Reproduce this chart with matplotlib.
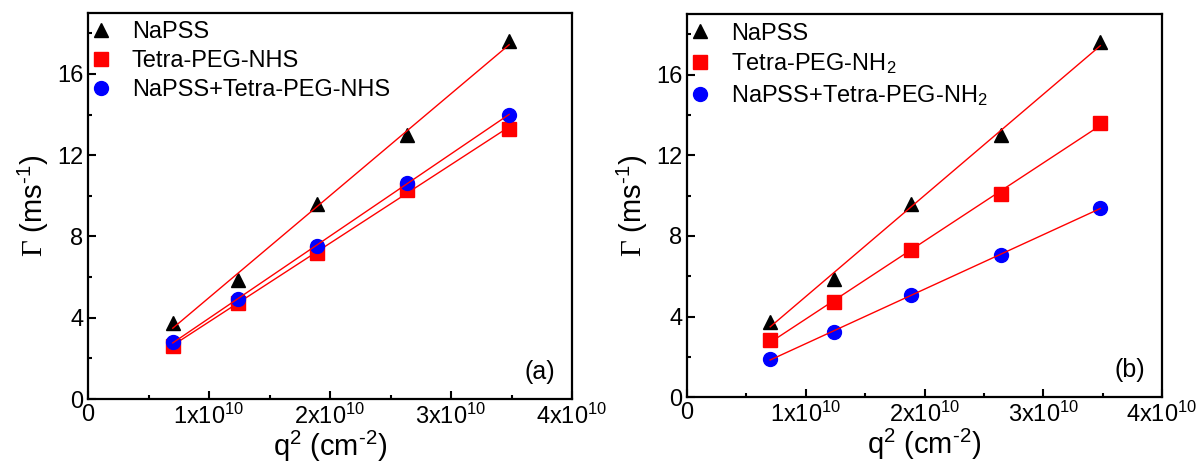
import matplotlib.pyplot as plt
import numpy as np
from matplotlib.ticker import MultipleLocator, FuncFormatter

plt.rcParams['font.family'] = ['Liberation Sans', 'DejaVu Sans']
plt.rcParams['mathtext.fontset'] = 'custom'
plt.rcParams['mathtext.rm'] = 'Liberation Sans'
plt.rcParams['mathtext.it'] = 'Liberation Sans'
plt.rcParams['mathtext.sf'] = 'Liberation Serif'
plt.rcParams['axes.unicode_minus'] = False

# q^2 values (cm^-2)
q2 = [0.70e10, 1.24e10, 1.89e10, 2.64e10, 3.48e10]

# panel (a)
napss = [3.75, 5.85, 9.6, 13.0, 17.6]
peg_nhs = [2.6, 4.75, 7.2, 10.3, 13.3]
mix_nhs = [2.8, 4.9, 7.55, 10.65, 14.0]

# panel (b)
peg_nh2 = [2.85, 4.7, 7.3, 10.1, 13.6]
mix_nh2 = [1.9, 3.25, 5.05, 7.05, 9.4]

labels_a = ['NaPSS', 'Tetra-PEG-NHS', 'NaPSS+Tetra-PEG-NHS']
labels_b = ['NaPSS', 'Tetra-PEG-NH$_2$', 'NaPSS+Tetra-PEG-NH$_2$']
markers = ['^', 's', 'o']
colors = ['black', 'red', 'blue']


def xfmt(v, pos):
    if abs(v) < 1:
        return '0'
    return '%dx10$^{10}$' % round(v / 1e10)


def draw(ax, series, labels, tag):
    x = np.array(q2)
    for y, lab, m, c in zip(series, labels, markers, colors):
        ax.plot(x, y, linestyle='none', marker=m, color=c, markersize=10, label=lab)
        k, b = np.polyfit(x, y, 1)
        ax.plot(x[[0, -1]], k * x[[0, -1]] + b, color='red', lw=1)
    ax.set_xlim(0, 4e10)
    ax.set_ylim(0, 19)
    ax.xaxis.set_major_locator(MultipleLocator(1e10))
    ax.xaxis.set_minor_locator(MultipleLocator(0.5e10))
    ax.yaxis.set_major_locator(MultipleLocator(4))
    ax.yaxis.set_minor_locator(MultipleLocator(2))
    ax.xaxis.set_major_formatter(FuncFormatter(xfmt))
    ax.tick_params(which='both', direction='in', labelsize=17, width=1.5)
    ax.tick_params(which='major', length=6)
    ax.tick_params(which='minor', length=3)
    for s in ax.spines.values():
        s.set_linewidth(1.6)
    ax.set_xlabel('q$^2$ (cm$^{\\text{-}2}$)', fontsize=21, labelpad=0)
    ax.set_ylabel('$\\mathsf{\\Gamma}$ (ms$^{\\text{-}1}$)', fontsize=21, labelpad=4)
    ax.text(0.965, 0.04, tag, transform=ax.transAxes, ha='right', va='bottom', fontsize=18)
    ax.legend(loc='upper left', frameon=False, fontsize=17, handlelength=0.4,
              handletextpad=1.1, borderaxespad=0.0, borderpad=0.35, labelspacing=0.3)


fig = plt.figure(figsize=(11.98, 4.75), dpi=100)
ax1 = fig.add_axes([0.0735, 0.16, 0.404, 0.8126])
ax2 = fig.add_axes([0.5735, 0.164, 0.3965, 0.806])

draw(ax1, [napss, peg_nhs, mix_nhs], labels_a, '(a)')
draw(ax2, [napss, peg_nh2, mix_nh2], labels_b, '(b)')

fig.savefig('out.png', dpi=100)
